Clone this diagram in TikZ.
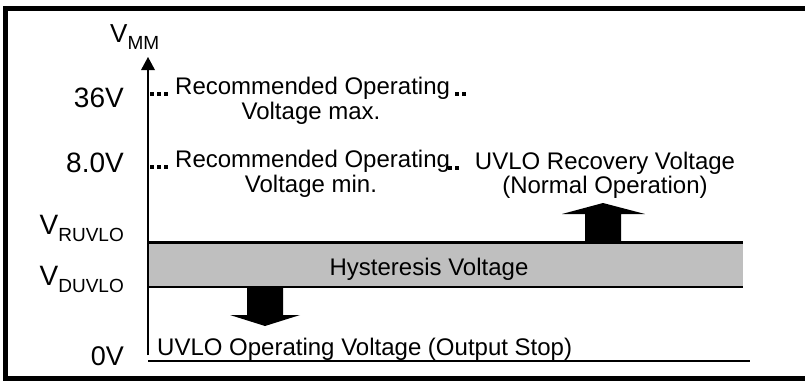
\documentclass[tikz,border=0pt]{standalone}
\usepackage{fontspec}
\setmainfont{Liberation Sans}
\newcommand\mysub[1]{\raisebox{-7.5pt}{\fontsize{19}{19}\selectfont #1}}
\begin{document}
\begin{tikzpicture}[x=1pt,y=-1pt,
  lbl/.style={inner sep=0pt, font=\fontsize{24}{24}\selectfont},
  tick/.style={inner sep=0pt, anchor=base east, font=\fontsize{28}{28}\selectfont},
  dotline/.style={line width=3.5pt, dash pattern=on 3.5pt off 3.5pt},
  blk/.style={fill=black, draw=none}]
\useasboundingbox (0,0) rectangle (805,381);
% frame
\draw[line width=5.5pt] (5.7,8.3) rectangle (812,378.5);
% band
\fill[black!25] (148,244) rectangle (743,286);
\coordinate (bandTL) at (148,242.5);
\coordinate (bandTR) at (743,242.5);
\coordinate (bandBL) at (148,287);
\coordinate (bandBR) at (743,287);
\draw[line width=3.5pt] (bandTL) -- (bandTR);
\draw[line width=2.5pt] (bandBL) -- (bandBR);
% zero line
\coordinate (zeroL) at (148,360.5);
\coordinate (zeroR) at (750,360.5);
\draw[line width=2pt] (zeroL) -- (zeroR);
% axis
\coordinate (axB) at (148,355);
\coordinate (axT) at (148,68);
\draw[line width=1.8pt] (axB) -- (axT);
\fill (141,70) -- (148,57) -- (155,70) -- cycle;
% dotted level marks
\draw[dotline] (150,94) -- (168,94);
\draw[dotline] (150,167) -- (168,167);
\draw[dotline] (455,94) -- (469,94);
\draw[dotline] (448,168) -- (462,168);
% up arrow
\path[blk] (585,241) -- (585,214) -- (562,214) -- (603,203) -- (645,214) -- (621,214) -- (621,241) -- cycle;
% down arrow
\path[blk] (247,288) -- (247,315) -- (230,315) -- (265,326) -- (300,315) -- (283,315) -- (283,288) -- cycle;
% labels
\node[inner sep=0pt, anchor=base west, font=\fontsize{26}{26}\selectfont] (vmm) at (110,42) {V\mysub{MM}};
\node[tick] (t36) at (124,107) {36V};
\node[tick] (t8) at (124,172) {8.0V};
\node[tick] (truv) at (124,234) {V\mysub{RUVLO}};
\node[tick] (tduv) at (124,285) {V\mysub{DUVLO}};
\node[tick, font=\fontsize{27}{27}\selectfont] (t0) at (124,365) {0V};
\node[lbl, anchor=base west] (rmax1) at (175,94) {Recommended Operating};
\node[lbl, anchor=base] (rmax2) at (311,119) {Voltage max.};
\node[lbl, anchor=base west] (rmin1) at (175,167) {Recommended Operating};
\node[lbl, anchor=base] (rmin2) at (311,192) {Voltage min.};
\node[lbl, anchor=base] (rec1) at (605,169) {UVLO Recovery Voltage};
\node[lbl, anchor=base] (rec2) at (605,193) {(Normal Operation)};
\node[lbl, anchor=base] (hys) at (429,275) {Hysteresis Voltage};
\node[lbl, anchor=base west] (stop) at (157,355) {UVLO Operating Voltage (Output Stop)};
\end{tikzpicture}
\end{document}
